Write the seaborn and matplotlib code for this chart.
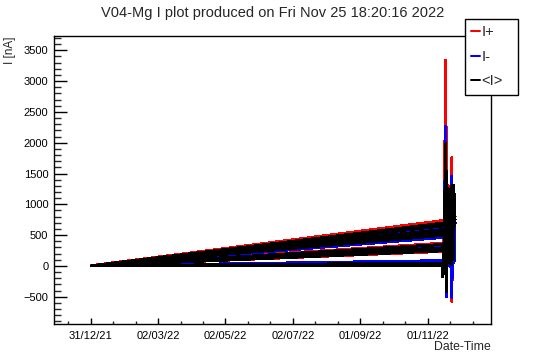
import numpy as np
import pandas as pd
import matplotlib
matplotlib.use("Agg")
import matplotlib.pyplot as plt
import matplotlib.dates as mdates
from matplotlib.lines import Line2D
import seaborn as sns

# readings in time order (fan of slow ramps, then the noisy spikes at the end)
times = [
    "2022-01-01 00:00", "2022-11-17 00:00", "2022-01-01 00:00", "2022-11-19 00:00",
    "2022-01-01 00:00", "2022-11-21 00:00", "2022-01-01 00:00", "2022-11-18 00:00",
    "2022-01-01 00:00", "2022-11-20 00:00",
    "2022-01-01 00:00", "2022-11-16 00:00", "2022-01-01 00:00", "2022-11-18 00:00",
    "2022-01-01 00:00", "2022-11-20 00:00",
    "2022-01-01 00:00", "2022-11-14 18:00", "2022-01-01 00:00", "2022-11-14 18:00",
    "2022-11-14 18:00", "2022-11-15 12:00", "2022-11-17 12:00", "2022-11-17 20:00",
    "2022-11-18 06:00", "2022-11-18 18:00", "2022-11-19 12:00", "2022-11-20 06:00",
    "2022-11-21 00:00", "2022-11-21 18:00", "2022-11-22 16:00", "2022-11-22 22:00",
    "2022-11-23 12:00", "2022-11-24 06:00", "2022-11-24 18:00", "2022-11-25 06:00",
    "2022-11-25 18:00",
]
i_plus = [
    5, 740, 5, 700, 5, 650, 5, 590, 5, 540,
    5, 370, 5, 310, 5, 240, 5, 15, 5, 0,
    -170, 60, 3340, -250, 1600, 150, 1300, 100, 1250, 80, 1755, -580,
    1200, 150, 1250, 200, 800,
]
i_minus = [
    0, 660, 0, 615, 0, 560, 0, 500, 0, 470,
    0, 330, 0, 280, 0, 255, 0, 85, 0, 5,
    -170, 40, 2270, -500, 1500, 60, 1200, 0, 1150, -20, 1450, -510,
    1100, 50, 1150, 80, 700,
]
i_mean = [
    2, 700, 2, 660, 2, 600, 2, 545, 2, 505,
    2, 350, 2, 295, 2, 250, 2, 45, 2, 5,
    -175, 50, 1990, -420, 1540, 100, 1250, 50, 1200, 30, 1300, 20,
    1250, 100, 1300, 650, 750,
]

series_names = ["I+", "I-", "<I>"]
series_colors = ["red", "blue", "black"]

tick_dates = ["2021-12-31", "2022-03-02", "2022-05-02", "2022-07-02", "2022-09-01", "2022-11-01"]
tick_labels = ["31/12/21", "02/03/22", "02/05/22", "02/07/22", "01/09/22", "01/11/22"]

title = "V04-Mg I plot produced on Fri Nov 25 18:20:16 2022"

t = pd.to_datetime(times, format="%Y-%m-%d %H:%M")
df = pd.concat([
    pd.DataFrame({"time": t, "value": i_plus, "series": "I+"}),
    pd.DataFrame({"time": t, "value": i_minus, "series": "I-"}),
    pd.DataFrame({"time": t, "value": i_mean, "series": "<I>"}),
], ignore_index=True)

sns.set_theme(style="white")
plt.rcParams["font.family"] = ["Liberation Sans", "DejaVu Sans"]

W, H = 546, 362
fig = plt.figure(figsize=(W / 100, H / 100), dpi=100)
x0, x1, y0, y1 = 54, 491, 36, 324
ax = fig.add_axes([x0 / W, 1 - y1 / H, (x1 - x0) / W, (y1 - y0) / H])

sns.lineplot(data=df, x="time", y="value", hue="series", hue_order=series_names,
             palette=dict(zip(series_names, series_colors)), sort=False,
             estimator=None, linewidth=1.45, legend=False, ax=ax, antialiased=False)

ax.set_xlim(pd.Timestamp("2021-11-27 19:00"), pd.Timestamp("2022-12-28 08:00"))
ax.set_ylim(-943, 3732)

major = mdates.date2num(pd.to_datetime(tick_dates))
step = (major[1] - major[0]) / 3
minor = np.arange(major[0] - step, major[-1] + 2.5 * step, step)
ax.set_xticks(major)
ax.set_xticklabels(tick_labels)
ax.set_xticks(minor, minor=True)
ax.set_yticks(np.arange(-500, 3501, 500))
ax.set_yticks(np.arange(-900, 3701, 100), minor=True)

ax.tick_params(axis="x", which="major", direction="in", length=4.3, width=1, pad=5,
               labelsize=8, colors="black", bottom=True, top=False)
ax.tick_params(axis="x", which="minor", direction="in", length=2, width=1, bottom=True, top=False)
ax.tick_params(axis="y", which="major", direction="in", length=9.4, width=1, pad=4,
               labelsize=8, colors="black", left=True, right=False)
ax.tick_params(axis="y", which="minor", direction="in", length=5, width=1, left=True, right=False)
ax.set_xlabel("")
ax.set_ylabel("")
for s in ax.spines.values():
    s.set_color("black")
    s.set_linewidth(1)

fig.text(273 / W, 1 - 13 / H, title, ha="center", va="center", fontsize=10.5)
fig.text(491 / W, 1 - 347 / H, "Date-Time", ha="right", va="center", fontsize=8.8)
fig.text(10 / W, 1 - 37 / H, "I [nA]", rotation=90, ha="center", va="top", fontsize=8.5)

handles = [Line2D([], [], color=c, lw=1.45) for c in series_colors]
leg = ax.legend(handles, series_names, loc="upper left",
                bbox_to_anchor=(465 / W, 1 - 94 / H, 53 / W, 75 / H), bbox_transform=fig.transFigure,
                mode="expand", frameon=True, fancybox=False, edgecolor="black", framealpha=1,
                fontsize=10.5, handlelength=0.62, handletextpad=0.07, labelspacing=0.73,
                borderpad=0.42, borderaxespad=0)
leg.get_frame().set_linewidth(1)

fig.savefig("out.png", dpi=100)
